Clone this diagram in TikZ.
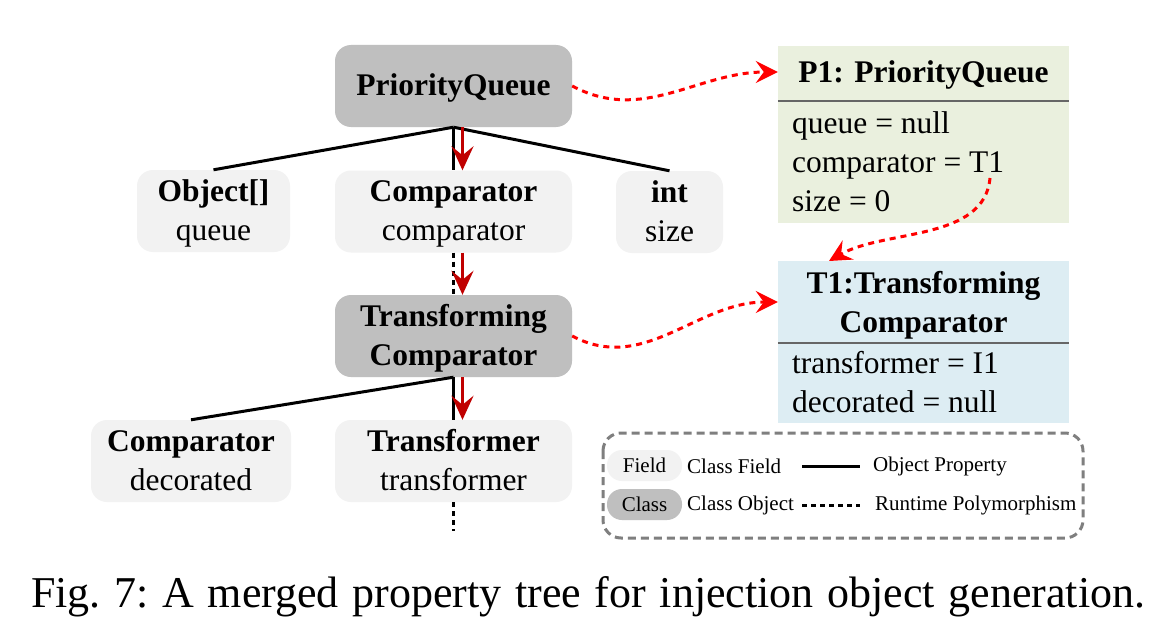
\documentclass[tikz,border=0pt]{standalone}
\usepackage{fontspec}
\setmainfont{Liberation Serif}
\usetikzlibrary{arrows.meta}
\definecolor{classgray}{HTML}{BFBFBF}
\definecolor{fieldgray}{HTML}{F2F2F2}
\definecolor{objgreen}{HTML}{EAF0DE}
\definecolor{objblue}{HTML}{DDEDF3}
\definecolor{darkred}{HTML}{C00000}
\definecolor{legendgray}{HTML}{7F7F7F}
\newcommand\mytwo[2]{\strut#1\\\strut#2}
\newcommand\myone[1]{\strut#1}
\tikzset{
  big/.style={font=\fontsize{31.5}{39}\selectfont},
  boxtext/.style={big, align=center, inner sep=0pt, yshift=-2pt},
  classbox/.style={fill=classgray, rounded corners=16pt, minimum width=237pt, minimum height=82pt, inner sep=0pt},
  fieldbox/.style={fill=fieldgray, rounded corners=16pt, minimum height=82pt, inner sep=0pt},
  prop/.style={line width=3pt, black},
  poly/.style={line width=3pt, black, dash pattern=on 5pt off 4pt},
  redarrow/.style={line width=3pt, darkred, -{Stealth[length=24pt,width=22pt,inset=9pt]}},
  reflink/.style={line width=3pt, red, dash pattern=on 6pt off 5pt, -{Stealth[length=22pt,width=22pt,inset=8pt]}},
  objline/.style={line width=2pt, black!60},
  legtext/.style={font=\fontsize{21}{25}\selectfont, anchor=west, inner sep=0pt},
  pill/.style={font=\fontsize{21}{25}\selectfont, rounded corners=15pt, minimum width=75pt, minimum height=31pt, inner sep=0pt}
}
\begin{document}
\begin{tikzpicture}[x=1pt,y=-1pt]
\useasboundingbox[fill=white] (0,0) rectangle (1170,626);

% tree nodes
\node[classbox, label={[boxtext]center:\myone{\textbf{PriorityQueue}}}] (pq) at (453.5,86) {};
\node[fieldbox, minimum width=153pt, label={[boxtext]center:{\mytwo{\textbf{Object[]}}{queue}}}] (oq) at (213.5,211) {};
\node[fieldbox, minimum width=237pt, label={[boxtext]center:{\mytwo{\textbf{Comparator}}{comparator}}}] (cc) at (453.5,211.5) {};
\node[fieldbox, minimum width=107pt, label={[boxtext]center:{\mytwo{\textbf{int}}{size}}}] (is) at (669.5,212) {};
\node[classbox, label={[boxtext]center:{\mytwo{\textbf{Transforming}}{\textbf{Comparator}}}}] (tc) at (453.5,336) {};
\node[fieldbox, minimum width=200pt, label={[boxtext]center:{\mytwo{\textbf{Comparator}}{decorated}}}] (cd) at (191,461) {};
\node[fieldbox, minimum width=237pt, label={[boxtext]center:{\mytwo{\textbf{Transformer}}{transformer}}}] (tt) at (453.5,461) {};
\coordinate (more) at (453.5,531);

% tree connectors
\draw[prop] (pq.south) -- (oq.north);
\draw[prop] (pq.south) -- (is.north);
\draw[prop] (pq.south) -- (cc.north);
\draw[poly] (cc.south) -- (tc.north);
\draw[prop] (tc.south) -- (cd.north);
\draw[prop] (tc.south) -- (tt.north);
\draw[poly] (tt.south) -- (more);

% red arrows along the path
\draw[redarrow] ([xshift=9pt]pq.south) -- ([xshift=9pt]cc.north);
\draw[redarrow] ([xshift=9pt]cc.south) -- ([xshift=9pt]tc.north);
\draw[redarrow] ([xshift=9pt]tc.south) -- ([xshift=9pt]tt.north);

% object P1
\node[fill=objgreen, minimum width=291pt, minimum height=177pt, inner sep=0pt] (p1) at (923.5,134.5) {};
\node[big, inner sep=0pt] (p1h) at (923.5,75) {\textbf{P1: PriorityQueue}};
\draw[objline] (p1.west |- 0,101) coordinate (p1l) -- (p1.east |- 0,101) coordinate (p1r);
\node[big, anchor=north west, align=left, inner sep=0pt] (p1b) at (792,111) {queue = null\\comparator = T1\\size = 0};
\coordinate (p1t) at (990,178);

% object T1
\node[fill=objblue, minimum width=291pt, minimum height=162pt, inner sep=0pt] (t1) at (923.5,342) {};
\node[big, inner sep=0pt, align=center] (t1h) at (923.5,305) {\textbf{T1:Transforming}\\\textbf{Comparator}};
\draw[objline] (t1.west |- 0,343) coordinate (t1l) -- (t1.east |- 0,343) coordinate (t1r);
\node[big, anchor=north west, align=left, inner sep=0pt] (t1b) at (792,351) {transformer = I1\\decorated = null};
\coordinate (t1in) at (829,261);

% reference links
\draw[reflink] (pq.east) to[out=-28,in=180,looseness=1.0] (p1.west |- 0,72);
\draw[reflink] (tc.east) to[out=-28,in=180,looseness=1.0] (t1.west |- 0,302);
\draw[reflink] (p1t) to[out=-95,in=30,looseness=0.9] (t1in);

% legend
\draw[legendgray, line width=3pt, dash pattern=on 8pt off 5pt, rounded corners=18pt] (603,433) rectangle (1083,538);
\node[pill, fill=fieldgray] (lf) at (644.5,465.5) {Field};
\node[legtext] (lft) at (687,466) {Class Field};
\coordinate (l1a) at (802,466);
\coordinate (l1b) at (860,466);
\draw[prop] (l1a) -- (l1b);
\node[legtext] (lop) at (873,466) {Object Property};
\node[pill, fill=classgray] (lc) at (644.5,504.5) {Class};
\node[legtext] (lct) at (687,505) {Class Object};
\coordinate (l2a) at (802,505);
\coordinate (l2b) at (860,505);
\draw[poly] (l2a) -- (l2b);
\node[legtext] (lrp) at (875,505) {Runtime Polymorphism};

% caption
\node[font=\fontsize{44}{50}\selectfont, inner sep=0pt, anchor=base west] (cap) at (31,607) {\frenchspacing\makebox[1114pt][s]{Fig. 7: A merged property tree for injection object generation.}};
\end{tikzpicture}
\end{document}
